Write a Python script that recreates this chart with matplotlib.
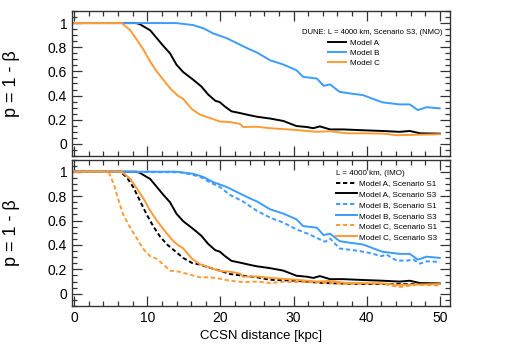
import matplotlib
matplotlib.use("Agg")
import matplotlib.pyplot as plt
from matplotlib.ticker import MultipleLocator

plt.rcParams['font.family'] = ['Liberation Sans', 'DejaVu Sans']

# ---- data ----
a_s3_x = [0, 8.5, 9.0, 10.4, 11.3, 12.2, 13.1, 14.0, 14.9, 16.3, 17.4, 18.3, 19.3, 19.9, 20.6, 21.5, 22.7,
          24.1, 25.0, 26.8, 28.6, 30.4, 31.8, 32.7, 33.6, 35.0, 36.8, 39.5, 42.2, 44.5, 45.9, 47.3, 50]
a_s3_y = [1, 1, 0.99, 0.94, 0.875, 0.81, 0.75, 0.655, 0.595, 0.53, 0.475, 0.41, 0.357, 0.346, 0.31, 0.27, 0.255,
          0.236, 0.225, 0.21, 0.19, 0.148, 0.14, 0.13, 0.145, 0.12, 0.12, 0.113, 0.107, 0.1, 0.107, 0.088, 0.085]

b_s3_x = [0, 14.0, 16.3, 17.7, 19.0, 20.9, 22.7, 24.1, 25.0, 26.8, 28.6, 30.4, 31.3, 33.2, 34.1, 35.0, 36.3,
          37.7, 39.5, 41.3, 42.2, 44.5, 45.9, 47.0, 48.2, 50]
b_s3_y = [1, 1, 0.983, 0.956, 0.915, 0.874, 0.82, 0.78, 0.756, 0.692, 0.657, 0.61, 0.555, 0.541, 0.481, 0.492,
          0.431, 0.418, 0.404, 0.363, 0.344, 0.327, 0.327, 0.28, 0.304, 0.294]

c_s3_x = [0, 6.5, 7.65, 8.6, 9.5, 10.4, 11.3, 12.2, 13.3, 14.2, 14.9, 16.1, 17.2, 18.6, 19.9, 21.3, 22.7,
          23.1, 25.0, 26.8, 30.4, 33.2, 35.0, 37.3, 39.5, 42.3, 44.1, 50]
c_s3_y = [1, 1, 0.942, 0.86, 0.777, 0.681, 0.599, 0.53, 0.448, 0.398, 0.373, 0.288, 0.242, 0.214, 0.186, 0.181,
          0.165, 0.14, 0.142, 0.13, 0.115, 0.1, 0.105, 0.088, 0.088, 0.085, 0.072, 0.08]

a_s1_x = [0, 6.3, 7.2, 8.1, 9.0, 9.9, 10.8, 11.7, 12.7, 13.8, 14.9, 16.1, 17.2, 18.6, 19.9, 21.3, 23.1,
          25.0, 26.8, 30.4, 34.1, 39.5, 50]
a_s1_y = [1, 1, 0.954, 0.871, 0.761, 0.651, 0.555, 0.472, 0.404, 0.349, 0.294, 0.253, 0.239, 0.212, 0.19,
          0.162, 0.148, 0.135, 0.115, 0.107, 0.088, 0.08, 0.08]

b_s1_x = [0, 14.5, 15.8, 17.2, 18.6, 19.9, 21.3, 23.1, 25.0, 26.8, 28.6, 30.4, 32.2, 33.6, 34.3, 35.0, 36.3,
          38.6, 40.4, 42.0, 42.7, 44.1, 45.5, 46.4, 47.3, 48.2, 50]
b_s1_y = [1, 0.995, 0.98, 0.959, 0.912, 0.876, 0.81, 0.756, 0.679, 0.624, 0.583, 0.528, 0.486, 0.445, 0.426,
          0.453, 0.371, 0.354, 0.335, 0.308, 0.322, 0.272, 0.272, 0.28, 0.247, 0.266, 0.261]

c_s1_x = [0, 4.7, 5.4, 6.1, 6.7, 7.4, 8.1, 8.8, 9.5, 10.4, 11.3, 12.2, 13.1, 14.5, 15.8, 17.2, 18.6, 19.9,
          21.3, 23.1, 25.0, 26.8, 28.6, 32.7, 37.2, 41.8, 44.5, 46.8, 50]
c_s1_y = [1, 1, 0.9, 0.76, 0.65, 0.569, 0.5, 0.431, 0.363, 0.308, 0.286, 0.239, 0.19, 0.179, 0.157, 0.135,
          0.135, 0.124, 0.107, 0.096, 0.1, 0.088, 0.098, 0.095, 0.08, 0.085, 0.055, 0.074, 0.068]

top_title = "DUNE: L = 4000 km, Scenario S3, (NMO)"
bot_title = "L = 4000 km, (IMO)"
xlabel = "CCSN distance [kpc]"
ylabel = "p = 1 - β"

BLACK = "#000000"
BLUE = "#3d9bff"
ORANGE = "#ff9a35"
LW = 1.4
DASH = (0, (2.2, 1.4))

fig = plt.figure(figsize=(5.12, 3.54), dpi=100)
W, H = 512, 354
def rect(l, t, r, b):
    return [l / W, 1 - b / H, (r - l) / W, (b - t) / H]

ax1 = fig.add_axes(rect(72, 11, 450, 156))
ax2 = fig.add_axes(rect(72, 159.5, 450, 306))

for ax in (ax1, ax2):
    ax.set_xlim(-0.3, 51.4)
    ax.set_ylim(-0.1, 1.1)
    ax.xaxis.set_major_locator(MultipleLocator(10))
    ax.xaxis.set_minor_locator(MultipleLocator(2))
    ax.yaxis.set_major_locator(MultipleLocator(0.2))
    ax.yaxis.set_minor_locator(MultipleLocator(0.05))
    ax.tick_params(which='both', direction='in', top=True, right=True, width=0.9, color='#333333')
    ax.tick_params(which='major', length=7, labelsize=10)
    ax.tick_params(which='minor', length=3.5)
    ax.yaxis.set_major_formatter(plt.FuncFormatter(lambda v, p: f"{v:g}"))
    for s in ax.spines.values():
        s.set_linewidth(1.0)
        s.set_color('#333333')
    ax.set_ylabel(ylabel, fontsize=13)

ax1.tick_params(labelbottom=False)
ax2.set_xlabel(xlabel, fontsize=9.5, labelpad=4)
for ax in (ax1, ax2):
    ax.yaxis.set_label_coords(-0.138, 0.5)

# top panel
ax1.plot(a_s3_x, a_s3_y, color=BLACK, lw=LW, label="Model A")
ax1.plot(b_s3_x, b_s3_y, color=BLUE, lw=LW, label="Model B")
ax1.plot(c_s3_x, c_s3_y, color=ORANGE, lw=LW, label="Model C")
ax1.text(0.981, 0.85, top_title, transform=ax1.transAxes, ha='right', va='center', fontsize=5.5)
ax1.legend(loc='upper left', bbox_to_anchor=(0.677, 0.805), frameon=False, fontsize=5.8,
           handlelength=2.2, handletextpad=0.5, labelspacing=0.3, borderpad=0, borderaxespad=0)

# bottom panel
ax2.plot(a_s1_x, a_s1_y, color=BLACK, lw=LW, ls=DASH, label="Model A, Scenario S1")
ax2.plot(a_s3_x, a_s3_y, color=BLACK, lw=LW, label="Model A, Scenario S3")
ax2.plot(b_s1_x, b_s1_y, color=BLUE, lw=LW, ls=DASH, label="Model B, Scenario S1")
ax2.plot(b_s3_x, b_s3_y, color=BLUE, lw=LW, label="Model B, Scenario S3")
ax2.plot(c_s1_x, c_s1_y, color=ORANGE, lw=LW, ls=DASH, label="Model C, Scenario S1")
ax2.plot(c_s3_x, c_s3_y, color=ORANGE, lw=LW, label="Model C, Scenario S3")
leg = ax2.legend(loc='upper left', bbox_to_anchor=(0.698, 0.93), frameon=False, fontsize=5.8,
                 title=bot_title, title_fontsize=5.8, alignment='left',
                 handlelength=2.6, handletextpad=0.3, labelspacing=0.38, borderpad=0, borderaxespad=0)

fig.savefig("out.png", dpi=100)
